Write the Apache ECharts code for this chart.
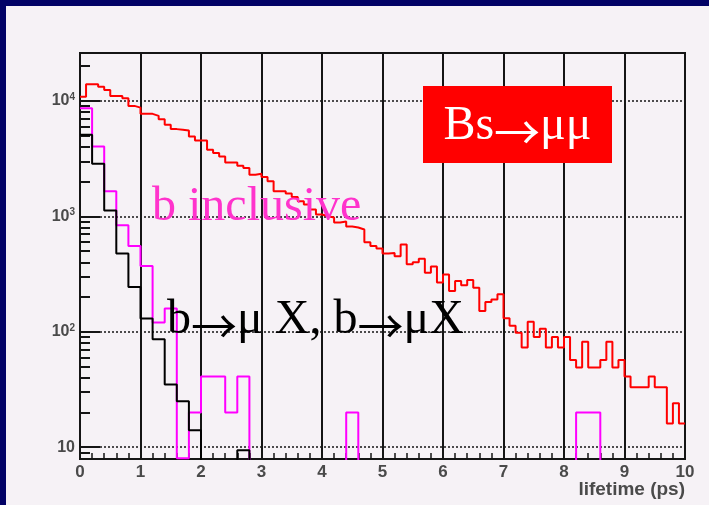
<!DOCTYPE html>
<html>
<head>
<meta charset="utf-8">
<script src="https://cdn.jsdelivr.net/npm/echarts@6/dist/echarts.min.js"></script>
<style>
html,body{margin:0;padding:0;background:#f6f2f6;overflow:hidden;}
#chart{width:709px;height:505px;}
</style>
</head>
<body>
<div id="chart"></div>
<script>
// ---- data ----
const redBinWidth = 0.1;   // Bs -> mu mu, 100 bins over 0..10 ps
const histBinWidth = 0.2;  // b inclusive / b -> mu X, 50 bins over 0..10 ps
const redValues = [
  10890,13940,13940,13290,12450,11050,11050,10550,9050,8750,
  7720,7720,7420,6950,6205,5695,5618,5540,4916,4540,
  4540,3775,3535,3304,2932,2932,2746,2623,2296,2342,
  2194,2010,1647,1647,1573,1473,1350,1264,1145,1036,
  1002,976,884,902,817,800,769,597,554,527,
  477,482,452,571,384,401,430,324,368,267,
  314,225,275,253,281,241,151,181,190,211,
  131,113,98,73,122,90,106,73,90,73,
  90,57,49,82,49,49,57,82,49,57,
  41,33,33,33,41,33,33,16,24,16
];
const magentaValues = [
  8650,4030,1648,838,552,371,120,159,8,20,
  41,41,20,41,0,0,0,0,0,0,
  0,0,20,0,0,0,0,0,0,0,
  0,0,0,0,0,0,0,0,0,0,
  0,20,20,0,0,0,0,0,0,0
];
const blackValues = [
  5085,2858,1122,477,244,130,86,35,25,14,
  0,0,0,9.4,0,0,0,0,0,0,
  0,0,0,0,0,0,0,0,0,0,
  0,0,0,0,0,0,0,0,0,0,
  0,0,0,0,0,0,0,0,0,0
];
const xTicks = [0,1,2,3,4,5,6,7,8,9,10];
const yMajorExponents = [1,2,3,4];
const yMinorValues = [8,9,20,30,40,50,60,70,80,90,200,300,400,500,600,700,800,900,
  2000,3000,4000,5000,6000,7000,8000,9000,20000];
const yMin = 7.9, yMax = 26000;
const labelInclusive = 'b inclusive';
const labelMuXParts = ['b', '\u2192', '\u03bc X, b', '\u2192', '\u03bcX'];   // b→μ X, b→μX
const labelBsParts = ['Bs', '\u2192', '\u03bc\u03bc'];                       // Bs→μμ
const xTitle = 'lifetime (ps)';

// ---- build step series ----
const FLOOR = 1; // empty bins fall below the axis and are clipped
function stepData(values, w) {
  const pts = values.map((v, i) => [+(i * w).toFixed(3), v > 0 ? v : FLOOR]);
  const last = values[values.length - 1];
  pts.push([+(values.length * w).toFixed(3), last > 0 ? last : FLOOR]);
  return pts;
}
function richArrowText(parts) {
  return parts.map(p => p === '\u2192' ? '{a|' + p + '}' : '{t|' + p + '}').join('');
}

const chart = echarts.init(document.getElementById('chart'), null, {renderer: 'canvas', width: 709, height: 505});
const gridRect = {left: 80, top: 53, right: 24, bottom: 46};
const axisColor = '#151515';
const labelColor = '#4a4a4a';
const serif = '"Liberation Serif", "Times New Roman", serif';
const sans = '"Liberation Sans", Arial, sans-serif';
function richStyles(color) {
  return {
    t: {fontFamily: serif, fontSize: 48, fill: color, color: color, lineHeight: 56},
    a: {fontFamily: '"Noto Sans CJK SC", "DejaVu Serif", serif', fontSize: 46, fill: color, color: color, lineHeight: 56, padding: [12, 0, 0, 0]}
  };
}

const option = {
  backgroundColor: '#f6f2f6',
  animation: false,
  grid: [
    Object.assign({show: true, borderColor: axisColor, borderWidth: 2, backgroundColor: 'transparent'}, gridRect),
    Object.assign({show: false}, gridRect)
  ],
  xAxis: [
    {
      type: 'value', gridIndex: 0, min: xTicks[0], max: xTicks[xTicks.length - 1], interval: 1,
      axisLine: {show: true, lineStyle: {color: axisColor, width: 2}},
      axisTick: {show: true, inside: true, length: 12, lineStyle: {color: axisColor, width: 2}},
      minorTick: {show: true, splitNumber: 5, length: 6, lineStyle: {color: axisColor, width: 1.5}},
      axisLabel: {margin: 5, color: labelColor, fontSize: 17, fontWeight: 'bold', fontFamily: sans},
      splitLine: {show: true, lineStyle: {color: axisColor, width: 2, type: 'solid'}}
    },
    {type: 'value', gridIndex: 1, min: 0, max: 10, show: false}
  ],
  yAxis: [
    {
      type: 'log', logBase: 10, gridIndex: 0, position: 'right', min: yMin, max: yMax, show: false,
      axisLine: {show: false}, axisTick: {show: false}, axisLabel: {show: false}, splitLine: {show: false}
    },
    {
      type: 'value', gridIndex: 0, position: 'left',
      min: Math.log10(yMin), max: Math.log10(yMax),
      axisLine: {show: true, lineStyle: {color: axisColor, width: 2}},
      axisTick: {show: true, inside: true, length: 20, customValues: yMajorExponents, lineStyle: {color: axisColor, width: 2}},
      axisLabel: {
        customValues: yMajorExponents, margin: 5,
        formatter: function (v) {
          const e = Math.round(v);
          return e === 1 ? '{b|10}' : '{b|10}{s|' + e + '}';
        },
        rich: {
          b: {fontSize: 16, fontWeight: 'bold', color: labelColor, fontFamily: sans, lineHeight: 18},
          s: {fontSize: 10, fontWeight: 'bold', color: labelColor, fontFamily: sans, verticalAlign: 'top', lineHeight: 12}
        }
      },
      splitLine: {show: true, lineStyle: {color: '#222', width: 1.6, type: [2, 2]}}
    },
    {
      type: 'value', gridIndex: 1, position: 'left',
      min: Math.log10(yMin), max: Math.log10(yMax),
      axisLine: {show: false},
      axisTick: {show: true, inside: true, length: 10, customValues: yMinorValues.map(v => Math.log10(v)), lineStyle: {color: axisColor, width: 2}},
      axisLabel: {show: false},
      splitLine: {show: false}
    }
  ],
  series: [
    {type: 'line', name: 'Bs', xAxisIndex: 0, yAxisIndex: 0, step: 'end', symbol: 'none', clip: true,
     data: stepData(redValues, redBinWidth), lineStyle: {color: '#ff0000', width: 2}, z: 3},
    {type: 'line', name: 'b inclusive', xAxisIndex: 0, yAxisIndex: 0, step: 'end', symbol: 'none', clip: true,
     data: stepData(magentaValues, histBinWidth), lineStyle: {color: '#ff00ff', width: 2}, z: 4},
    {type: 'line', name: 'b mu X', xAxisIndex: 0, yAxisIndex: 0, step: 'end', symbol: 'none', clip: true,
     data: stepData(blackValues, histBinWidth), lineStyle: {color: '#000000', width: 2}, z: 5}
  ],
  graphic: [
    {type: 'rect', shape: {x: 0, y: 0, width: 6, height: 505}, style: {fill: '#020266'}, z: 100},
    {type: 'rect', shape: {x: 0, y: 0, width: 709, height: 6}, style: {fill: '#020266'}, z: 100},
    {type: 'rect', shape: {x: 423, y: 86, width: 189, height: 77}, style: {fill: '#ff0000'}, z: 100},
    {type: 'text', x: 517.5, y: 126, style: {text: richArrowText(labelBsParts), rich: richStyles('#ffffff'), fill: '#ffffff', font: '48px ' + serif, align: 'center', verticalAlign: 'middle'}, z: 101},
    {type: 'text', x: 152, y: 207, style: {text: labelInclusive, fill: '#ff33cc', font: '48px ' + serif, align: 'left', verticalAlign: 'middle'}, z: 101},
    {type: 'text', x: 167, y: 320, style: {text: richArrowText(labelMuXParts), rich: richStyles('#000000'), fill: '#000000', font: '48px ' + serif, align: 'left', verticalAlign: 'middle'}, z: 101},
    {type: 'text', x: 685, y: 490, style: {text: xTitle, fill: labelColor, font: 'bold 19px ' + sans, align: 'right', verticalAlign: 'middle'}, z: 101}
  ]
};
chart.setOption(option);
</script>
</body>
</html>
